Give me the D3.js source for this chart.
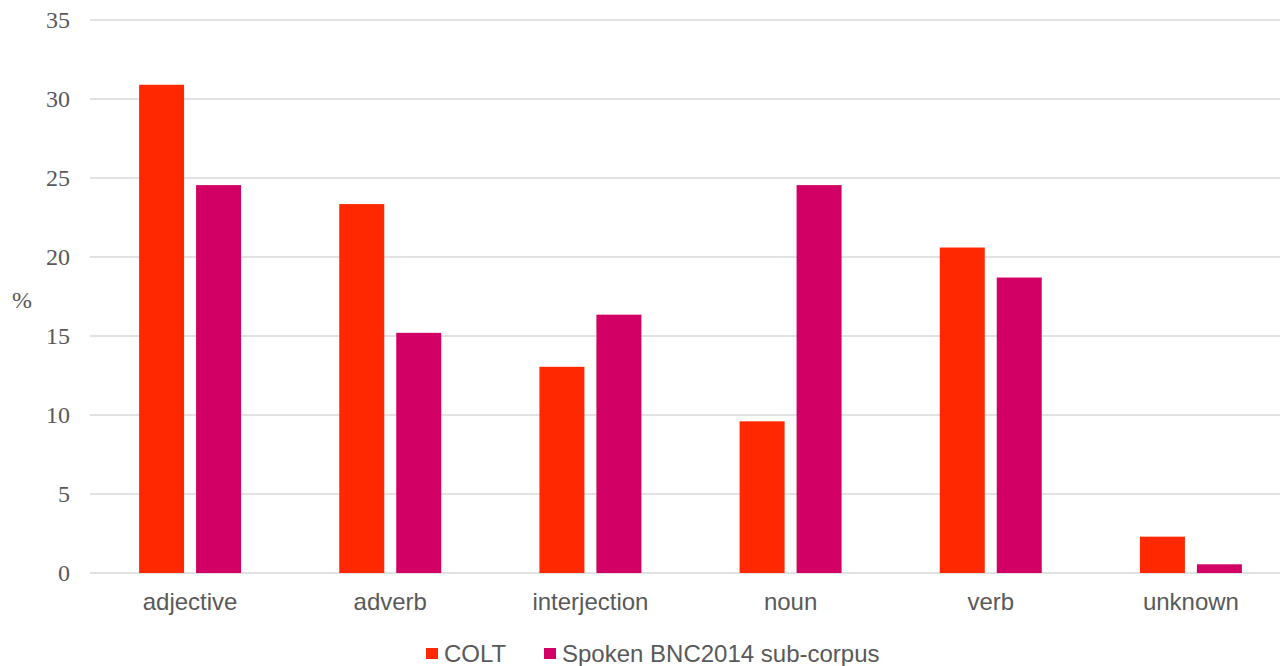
<!DOCTYPE html>
<html>
<head>
<meta charset="utf-8">
<script src="https://cdn.jsdelivr.net/npm/d3@7"></script>
<style>
  body { margin: 0; background: #fff; }
</style>
</head>
<body>
<div id="chart"></div>
<script>
var categories = ['adjective', 'adverb', 'interjection', 'noun', 'verb', 'unknown'];
var seriesNames = ['COLT', 'Spoken BNC2014 sub-corpus'];
var colt = [30.9, 23.35, 13.05, 9.6, 20.6, 2.3];
var bnc = [24.55, 15.2, 16.35, 24.55, 18.7, 0.55];
var yTicks = [0, 5, 10, 15, 20, 25, 30, 35];
var colors = ['#FF2800', '#D20064'];

var width = 1280,
    height = 666;
var margin = { top: 20, right: -11, bottom: 93, left: 90 };

var svg = d3.select('#chart')
      .append('svg')
      .attr('width', width)
      .attr('height', height);

var x0 = d3.scaleBand()
      .domain(categories)
      .range([margin.left, width - margin.right])
      .padding(0);

var bw = x0.bandwidth();
var x1 = d3.scaleBand()
      .domain(seriesNames)
      .range([bw / 2 - 51, bw / 2 + 51])
      .paddingInner(0.2105)
      .paddingOuter(0);

var y = d3.scaleLinear()
      .domain([0, 35])
      .range([height - margin.bottom, margin.top]);

// gridlines
svg.append('g')
  .selectAll('line')
  .data(yTicks)
  .enter()
  .append('line')
  .attr('x1', margin.left)
  .attr('x2', width)
  .attr('y1', d => y(d))
  .attr('y2', d => y(d))
  .attr('stroke', '#d9d9d9')
  .attr('stroke-width', 1.5);

// y tick labels
svg.append('g')
  .selectAll('text')
  .data(yTicks)
  .enter()
  .append('text')
  .attr('x', 70)
  .attr('y', d => y(d))
  .attr('dy', '0.35em')
  .attr('text-anchor', 'end')
  .style('font-family', '"Liberation Serif", serif')
  .style('font-size', '24px')
  .style('fill', '#595959')
  .text(d => d);

svg.append('text')
  .attr('x', 22)
  .attr('y', 300)
  .attr('dy', '0.35em')
  .attr('text-anchor', 'middle')
  .style('font-family', '"Liberation Serif", serif')
  .style('font-size', '24px')
  .style('fill', '#595959')
  .text('%');

var rows = categories.map((c, i) => ({ cat: c, vals: [colt[i], bnc[i]] }));

var groups = svg.append('g')
  .selectAll('g')
  .data(rows)
  .enter()
  .append('g')
  .attr('transform', d => 'translate(' + x0(d.cat) + ',0)');

groups.selectAll('rect')
  .data(d => d.vals.map((v, j) => ({ s: seriesNames[j], v: v, j: j })))
  .enter()
  .append('rect')
  .attr('x', d => x1(d.s))
  .attr('y', d => y(d.v))
  .attr('width', x1.bandwidth())
  .attr('height', d => y(0) - y(d.v))
  .attr('fill', d => colors[d.j]);

// category labels
svg.append('g')
  .selectAll('text')
  .data(categories)
  .enter()
  .append('text')
  .attr('x', d => x0(d) + bw / 2)
  .attr('y', 610)
  .attr('text-anchor', 'middle')
  .style('font-family', '"Liberation Sans", Arial, sans-serif')
  .style('font-size', '24px')
  .style('fill', '#595959')
  .text(d => d);

// legend
var legendX = [426, 544];
var legend = svg.append('g')
  .selectAll('g')
  .data(seriesNames)
  .enter()
  .append('g')
  .attr('transform', (d, i) => 'translate(' + legendX[i] + ',648)');

legend.append('rect')
  .attr('width', 12)
  .attr('height', 11)
  .attr('fill', (d, i) => colors[i]);

legend.append('text')
  .attr('x', 18)
  .attr('y', 14)
  .style('font-family', '"Liberation Sans", Arial, sans-serif')
  .style('font-size', '24px')
  .style('fill', '#595959')
  .text(d => d);
</script>
</body>
</html>
